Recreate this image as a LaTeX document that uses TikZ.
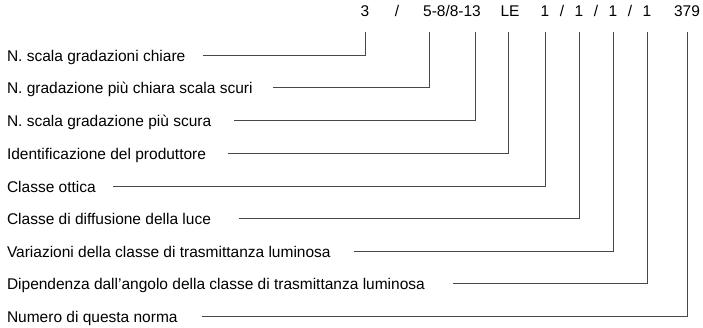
\documentclass[tikz,border=0pt]{standalone}
\usepackage{fontspec}
\setmainfont{Liberation Sans}
\begin{document}
\begin{tikzpicture}[x=1pt,y=-1pt,
  every node/.style={inner sep=0pt,outer sep=0pt,font=\fontsize{15.5pt}{18pt}\selectfont},
  lab/.style={anchor=base west},
  top/.style={anchor=base},
  conn/.style={draw=black!72,line width=0.9pt}]
\useasboundingbox (0,0) rectangle (703,328);
% top code
\node[top] (t1) at (365,17) {3};
\node[top] (s0) at (397,17) {/};
\node[top] (t2) at (452,17) {5-8/8-13};
\node[top] (t4) at (510,17) {LE};
\node[top] (t5) at (545,17) {1};
\node[top] (s1) at (562,17) {/};
\node[top] (t6) at (579,17) {1};
\node[top] (s2) at (596,17) {/};
\node[top] (t7) at (613,17) {1};
\node[top] (s3) at (630,17) {/};
\node[top] (t8) at (647,17) {1};
\node[top] (t9) at (687,17) {379};
% labels
\node[lab] (l1) at (7,61.5) {N. scala gradazioni chiare};
\node[lab] (l2) at (7,93.5) {N. gradazione più chiara scala scuri};
\node[lab] (l3) at (7,126.5) {N. scala gradazione più scura};
\node[lab] (l4) at (7,159.5) {Identificazione del produttore};
\node[lab] (l5) at (7,192.5) {Classe ottica};
\node[lab] (l6) at (7,224.5) {Classe di diffusione della luce};
\node[lab] (l7) at (7,257.5) {Variazioni della classe di trasmittanza luminosa};
\node[lab] (l8) at (7,289.5) {Dipendenza dall’angolo della classe di trasmittanza luminosa};
\node[lab] (l9) at (7,322.5) {Numero di questa norma};
% connector start points
\coordinate (a1) at (203,55);
\coordinate (a2) at (273,87);
\coordinate (a3) at (234,120);
\coordinate (a4) at (228,153);
\coordinate (a5) at (113,186);
\coordinate (a6) at (239,218);
\coordinate (a7) at (354,251);
\coordinate (a8) at (453,283);
\coordinate (a9) at (202,316);
% connector end points (below the code items)
\coordinate (b1) at (365,32);
\coordinate (b2) at (429,32);
\coordinate (b3) at (475,32);
\coordinate (b4) at (508,32);
\coordinate (b5) at (545,32);
\coordinate (b6) at (579,32);
\coordinate (b7) at (613,32);
\coordinate (b8) at (647,32);
\coordinate (b9) at (687,32);
\foreach \i in {1,...,9} {\draw[conn] (a\i) -| (b\i);}
\end{tikzpicture}
\end{document}
